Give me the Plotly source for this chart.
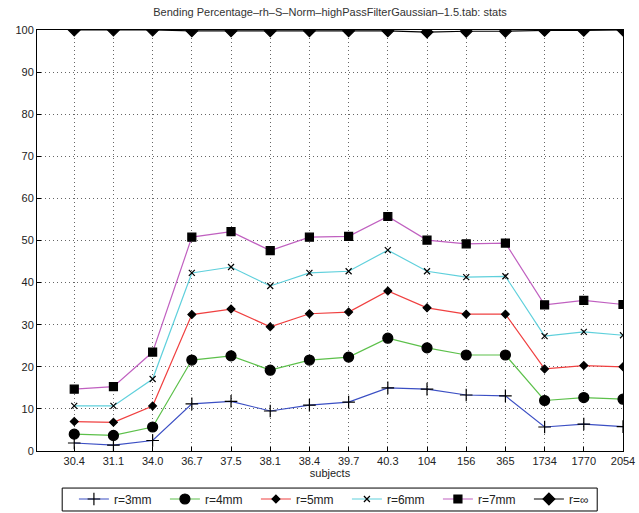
import plotly.graph_objects as go

subjects = ["30.4", "31.1", "34.0", "36.7", "37.5", "38.1", "38.4", "39.7",
            "40.3", "104", "156", "365", "1734", "1770", "2054"]

r3 = [1.9, 1.4, 2.5, 11.2, 11.8, 9.5, 10.9, 11.6, 15.0, 14.7, 13.3, 13.1, 5.7, 6.4, 5.8]
r4 = [4.0, 3.7, 5.7, 21.6, 22.6, 19.2, 21.6, 22.3, 26.8, 24.5, 22.8, 22.8, 12.0, 12.7, 12.3]
r5 = [7.0, 6.8, 10.7, 32.4, 33.7, 29.5, 32.6, 33.0, 38.0, 34.0, 32.5, 32.5, 19.5, 20.3, 20.0]
r6 = [10.7, 10.7, 17.1, 42.3, 43.7, 39.2, 42.3, 42.7, 47.7, 42.7, 41.3, 41.5, 27.3, 28.3, 27.5]
r7 = [14.7, 15.3, 23.5, 50.8, 52.1, 47.6, 50.8, 51.0, 55.7, 50.1, 49.2, 49.4, 34.7, 35.8, 34.8]
rinf = [100, 100, 100, 99.8, 99.8, 99.8, 99.8, 99.8, 99.8, 99.5, 99.7, 99.7, 99.9, 99.9, 100]

series = [
    ("r=3mm", r3, "#3b4fc4", "cross-thin", 9),
    ("r=4mm", r4, "#5cc04a", "circle", 10),
    ("r=5mm", r5, "#f04040", "diamond", 6),
    ("r=6mm", r6, "#5fd0dc", "x-thin", 6),
    ("r=7mm", r7, "#c060c0", "square", 8),
    ("r=∞", rinf, "#000000", "diamond", 9),
]

fig = go.Figure()
for name, vals, col, sym, sz in series:
    fig.add_trace(go.Scatter(
        x=subjects, y=vals, name=name, mode="lines+markers",
        line=dict(color=col, width=1.2),
        marker=dict(symbol=sym, size=sz, color="black",
                    line=dict(color="black", width=1.2)),
    ))

font = "Liberation Sans, Arial, sans-serif"
fig.update_layout(
    width=639, height=513,
    margin=dict(l=37, r=16, t=30, b=62, autoexpand=False),
    paper_bgcolor="white", plot_bgcolor="white",
    font=dict(family=font, size=11, color="#222"),
    title=dict(text="Bending Percentage\u2013rh\u2013S\u2013Norm\u2013highPassFilterGaussian\u20131.5.tab: stats",
               x=0.5, xref="paper", y=0.976, yanchor="middle", font=dict(size=11, color="#333")),
    showlegend=True,
    legend=dict(orientation="h", x=0.063, xanchor="left", y=-0.114, yanchor="middle",
                borderwidth=0, bgcolor="rgba(0,0,0,0)",
                font=dict(size=12), entrywidth=46, entrywidthmode="pixels", tracegroupgap=0),
    shapes=[dict(type="rect", xref="paper", yref="paper",
                 x0=0.043, x1=0.956, y0=-0.1425, y1=-0.088,
                 line=dict(color="black", width=1), fillcolor="rgba(0,0,0,0)",
                 layer="below")],
)
fig.update_xaxes(
    type="category", range=[-0.95, 14], showline=True, linecolor="black", mirror=True,
    linewidth=1, ticks="inside", ticklen=4, tickcolor="black",
    showgrid=True, gridcolor="#666", griddash="1px,3px", gridwidth=1,
    title=dict(text="subjects", standoff=0, font=dict(size=11)),
    tickfont=dict(size=11), automargin=False,
)
fig.update_yaxes(
    range=[0, 100], dtick=10, showline=True, linecolor="black", mirror=True,
    linewidth=1, ticks="inside", ticklen=4, tickcolor="black",
    showgrid=True, gridcolor="#666", griddash="1px,3px", gridwidth=1,
    zeroline=False, tickfont=dict(size=11), automargin=False,
)
fig.write_html("out.html", config={"displayModeBar": False},
               post_script="document.body.style.margin='0';document.body.style.overflow='hidden';")
